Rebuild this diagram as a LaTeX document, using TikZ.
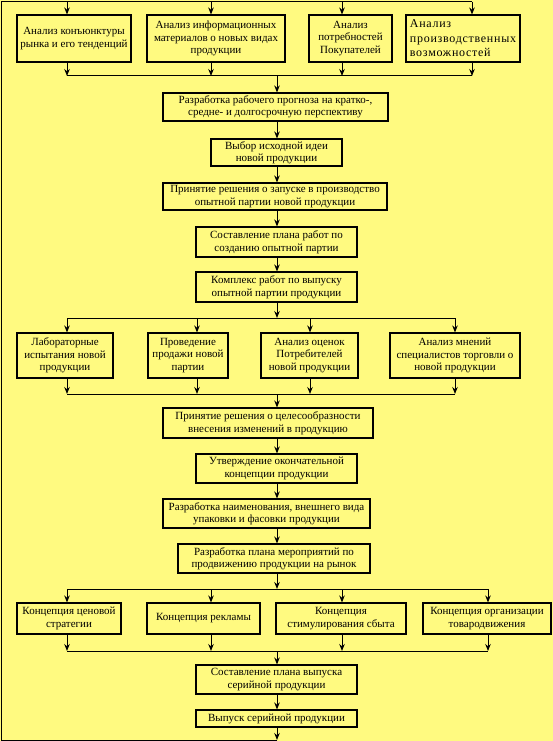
\documentclass[tikz,border=0pt]{standalone}
\usepackage{fontspec}
\setmainfont{Liberation Serif}
\newfontfamily\widefont[LetterSpace=6]{Liberation Serif}
\usetikzlibrary{arrows.meta}
\definecolor{paper}{RGB}{255,250,128}

\begin{document}
\begin{tikzpicture}[
    x=1pt, y=-1pt,
    every node/.style={font=\fontsize{11}{12.5}\selectfont},
    box/.style={draw, line width=1.1pt, align=center, inner sep=0pt},
    wire/.style={line width=1pt},
    flow/.style={-{Stealth[length=7pt, width=5.5pt]}, line width=1pt}
]
\fill[paper] (0,0) rectangle (553,741);
\useasboundingbox (0,0) rectangle (553,741);

% columns and bus lines
\coordinate (spine) at (277,0);
\coordinate (colA) at (67,0);
\coordinate (colB) at (211,0);
\coordinate (colC) at (342,0);
\coordinate (colD) at (472,0);
\coordinate (colF) at (197,0);
\coordinate (colG) at (310,0);
\coordinate (colH) at (455,0);
\coordinate (colL) at (488,0);
\coordinate (loopT) at (1,2);
\coordinate (loopB) at (1,740);
\coordinate (bus1) at (0,76);
\coordinate (bus2) at (0,318);
\coordinate (bus3) at (0,394);
\coordinate (bus4) at (0,589);
\coordinate (bus5) at (0,651);

% analysis row
\node[box, minimum width=114pt, minimum height=47pt] (market) at (74,38.5) {Анализ конъюнктуры\\рынка и его тенденций};
\node[box, minimum width=138pt, minimum height=47pt] (info) at (216,38.5) {Анализ информационных\\материалов о новых видах\\продукции};
\node[box, minimum width=83pt, minimum height=47pt] (needs) at (350.5,38.5) {Анализ\\потребностей\\Покупателей};
\node[box, minimum width=114pt, minimum height=47pt, align=left, font=\widefont\fontsize{12}{14.5}\selectfont] (capacity) at (463,38.5) {Анализ\\производственных\\возможностей};

% pilot chain
\node[box, minimum width=225pt, minimum height=28pt] (forecast) at (275.5,107) {Разработка рабочего прогноза на кратко-,\\средне- и долгосрочную перспективу};
\node[box, minimum width=131pt, minimum height=27pt] (idea) at (276.5,152.5) {Выбор исходной идеи\\новой продукции};
\node[box, minimum width=224pt, minimum height=27pt] (launch) at (275,196.5) {Принятие решения о запуске в производство\\опытной партии новой продукции};
\node[box, minimum width=161pt, minimum height=30pt] (workplan) at (276.5,242) {Составление плана работ по\\созданию опытной партии};
\node[box, minimum width=161pt, minimum height=30pt] (pilot) at (276.5,287) {Комплекс работ по выпуску\\опытной партии продукции};

% testing row
\node[box, minimum width=96pt, minimum height=45pt] (labtest) at (65,355.5) {Лабораторные\\испытания новой\\продукции};
\node[box, minimum width=80pt, minimum height=45pt] (trial) at (188,355.5) {Проведение\\продажи новой\\партии};
\node[box, minimum width=97pt, minimum height=45pt] (buyers) at (309.5,355.5) {Анализ оценок\\Потребителей\\новой продукции};
\node[box, minimum width=130pt, minimum height=45pt] (traders) at (455,355.5) {Анализ мнений\\специалистов торговли о\\новой продукции};

% product chain
\node[box, minimum width=210pt, minimum height=30pt] (revise) at (268,423) {Принятие решения о целесообразности\\внесения изменений в продукцию};
\node[box, minimum width=161pt, minimum height=29pt] (concept) at (276.5,468.5) {Утверждение окончательной\\концепции продукции};
\node[box, minimum width=207pt, minimum height=29pt] (naming) at (266.5,513.5) {Разработка наименования, внешнего вида\\упаковки и фасовки продукции};
\node[box, minimum width=192pt, minimum height=29pt] (promo) at (274,558.5) {Разработка плана мероприятий по\\продвижению продукции на рынок};

% concept row
\node[box, minimum width=104pt, minimum height=31pt] (pricing) at (69,618.5) {Концепция ценовой\\стратегии};
\node[box, minimum width=113pt, minimum height=31pt] (advert) at (203.5,618.5) {Концепция рекламы};
\node[box, minimum width=130pt, minimum height=31pt] (sales) at (341,618.5) {Концепция\\стимулирования сбыта};
\node[box, minimum width=128pt, minimum height=31pt] (logistics) at (487,618.5) {Концепция организации\\товародвижения};

% series
\node[box, minimum width=161pt, minimum height=29pt] (seriesplan) at (276.5,679.5) {Составление плана выпуска\\серийной продукции};
\node[box, minimum width=161pt, minimum height=17pt] (series) at (276.5,718.5) {Выпуск серийной продукции};

% feedback loop
\draw[flow] (series.south -| spine) -- (spine |- loopB);
\draw[wire] (spine |- loopB) -- (loopB) -- (loopT) -- (colD |- loopT);
\draw[flow] (colA |- loopT) -- (colA |- market.north);
\draw[flow] (colB |- loopT) -- (colB |- info.north);
\draw[flow] (colC |- loopT) -- (colC |- needs.north);
\draw[flow] (colD |- loopT) -- (colD |- capacity.north);

% analysis row to forecast
\draw[flow] (colA |- market.south) -- (colA |- bus1);
\draw[flow] (colB |- info.south) -- (colB |- bus1);
\draw[flow] (colC |- needs.south) -- (colC |- bus1);
\draw[flow] (colD |- capacity.south) -- (colD |- bus1);
\draw[wire] (colA |- bus1) -- (colD |- bus1);
\draw[flow] (spine |- bus1) -- (spine |- forecast.north);

\draw[flow] (forecast.south -| spine) -- (idea.north -| spine);
\draw[flow] (idea.south -| spine) -- (launch.north -| spine);
\draw[flow] (launch.south -| spine) -- (workplan.north -| spine);
\draw[flow] (workplan.south -| spine) -- (pilot.north -| spine);
\draw[flow] (pilot.south -| spine) -- (spine |- bus2);

% testing row
\draw[wire] (colA |- bus2) -- (colH |- bus2);
\draw[flow] (colA |- bus2) -- (colA |- labtest.north);
\draw[flow] (colF |- bus2) -- (colF |- trial.north);
\draw[flow] (colG |- bus2) -- (colG |- buyers.north);
\draw[flow] (colH |- bus2) -- (colH |- traders.north);
\draw[flow] (colA |- labtest.south) -- (colA |- bus3);
\draw[flow] (colF |- trial.south) -- (colF |- bus3);
\draw[flow] (colG |- buyers.south) -- (colG |- bus3);
\draw[flow] (colH |- traders.south) -- (colH |- bus3);
\draw[wire] (colA |- bus3) -- (colH |- bus3);
\draw[flow] (spine |- bus3) -- (spine |- revise.north);

\draw[flow] (revise.south -| spine) -- (concept.north -| spine);
\draw[flow] (concept.south -| spine) -- (naming.north -| spine);
\draw[flow] (naming.south -| spine) -- (promo.north -| spine);
\draw[flow] (promo.south -| spine) -- (spine |- bus4);

% concept row
\draw[wire] (colA |- bus4) -- (colL |- bus4);
\draw[flow] (colA |- bus4) -- (colA |- pricing.north);
\draw[flow] (colB |- bus4) -- (colB |- advert.north);
\draw[flow] (colC |- bus4) -- (colC |- sales.north);
\draw[flow] (colL |- bus4) -- (colL |- logistics.north);
\draw[flow] (colA |- pricing.south) -- (colA |- bus5);
\draw[flow] (colB |- advert.south) -- (colB |- bus5);
\draw[flow] (colC |- sales.south) -- (colC |- bus5);
\draw[flow] (colL |- logistics.south) -- (colL |- bus5);
\draw[wire] (colA |- bus5) -- (colL |- bus5);
\draw[flow] (spine |- bus5) -- (spine |- seriesplan.north);
\draw[flow] (seriesplan.south -| spine) -- (series.north -| spine);
\end{tikzpicture}
\end{document}
